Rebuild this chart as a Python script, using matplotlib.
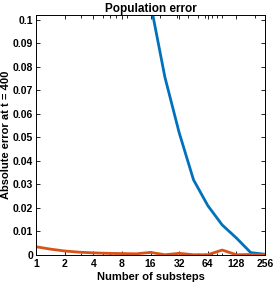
import numpy as np
import matplotlib
matplotlib.use("Agg")
import matplotlib.pyplot as plt
from matplotlib.ticker import FixedLocator, NullFormatter

substeps = [1, 1.414, 2, 2.828, 4, 5.657, 8, 11.31, 16, 22.63, 32, 45.25, 64, 90.51, 128, 181.0, 256]
err_blue = [1.2, 0.9, 0.7, 0.5, 0.35, 0.25, 0.18, 0.14, 0.107, 0.0757, 0.052, 0.032, 0.021, 0.0128, 0.0072, 0.0010, 0.0003]
err_orange = [0.0035, 0.0025, 0.0017, 0.0012, 0.0009, 0.0007, 0.0006, 0.0005, 0.0011, 0.0001, 0.0007, 0.0001, 0.0001, 0.0021, 0.0001, 0.0002, 0.0001]
xticks = [1, 2, 4, 8, 16, 32, 64, 128, 256]
xticklabels = ["1", "2", "4", "8", "16", "32", "64", "128", "256"]
yticks = [0, 0.01, 0.02, 0.03, 0.04, 0.05, 0.06, 0.07, 0.08, 0.09, 0.1]
yticklabels = ["0", "0.01", "0.02", "0.03", "0.04", "0.05", "0.06", "0.07", "0.08", "0.09", "0.1"]

plt.rcParams['font.family'] = ['Liberation Sans', 'DejaVu Sans']
plt.rcParams['font.weight'] = 'bold'

fig = plt.figure(figsize=(2.73, 2.83), dpi=100)
ax = fig.add_axes([0.132, 0.099, 0.839, 0.848])
ax.plot(substeps, err_blue, color='#0072BD', lw=2.0)
ax.plot(substeps, err_orange, color='#D95319', lw=2.0)
ax.set_xscale('log', base=2)
ax.set_xlim(1, 256)
ax.set_ylim(0, 0.1021)
ax.set_xticks(xticks)
ax.set_xticklabels(xticklabels)
minor = [m * 10**e for e in range(0, 3) for m in range(2, 10) if m * 10**e <= 256]
ax.xaxis.set_minor_locator(FixedLocator(minor))
ax.xaxis.set_minor_formatter(NullFormatter())
ax.set_yticks(yticks)
ax.set_yticklabels(yticklabels)
ax.tick_params(which='both', direction='in', top=True, right=True, labelsize=7.5, width=0.6, pad=2)
ax.tick_params(axis='x', which='major', pad=3)
ax.tick_params(which='major', length=3)
ax.tick_params(which='minor', length=1.8)
for s in ax.spines.values():
    s.set_linewidth(0.7)
ax.set_xlabel('Number of substeps', fontsize=8, fontweight='bold', labelpad=2)
ax.set_ylabel('Absolute error at t = 400', fontsize=8, fontweight='bold', labelpad=1)
ax.set_title('Population error', fontsize=8.5, fontweight='bold', pad=2)
fig.savefig('out.png', dpi=100)
